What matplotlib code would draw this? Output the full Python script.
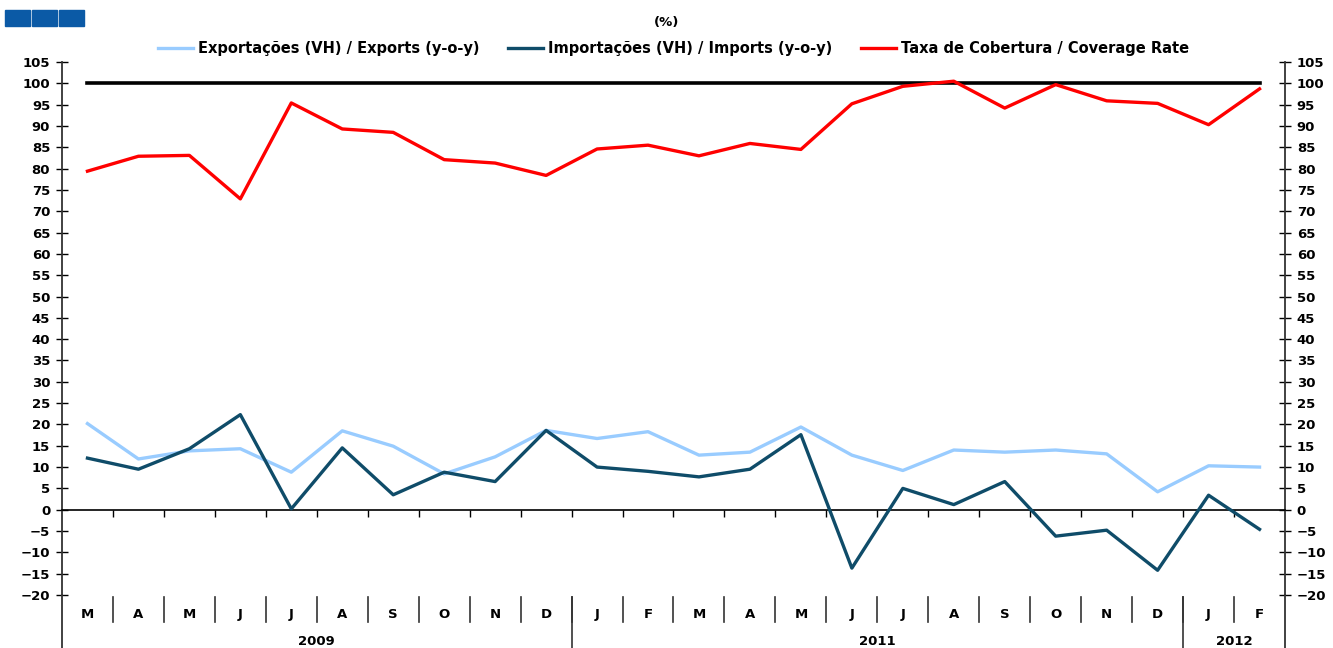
import matplotlib
matplotlib.use("Agg")
import matplotlib.pyplot as plt
from matplotlib.patches import Rectangle
from matplotlib.lines import Line2D

plt.rcParams["font.family"] = ["DejaVu Sans"]
plt.rcParams["font.weight"] = "bold"

months = ["M", "A", "M", "J", "J", "A", "S", "O", "N", "D",
          "J", "F", "M", "A", "M", "J", "J", "A", "S", "O", "N", "D",
          "J", "F"]
years = ["2009", "2011", "2012"]
year_spans = [(0, 9), (10, 21), (22, 23)]

exports = [20.2, 11.9, 13.8, 14.3, 8.8, 18.5, 14.9, 8.4, 12.4, 18.6,
           16.7, 18.3, 12.8, 13.5, 19.4, 12.8, 9.2, 14.0, 13.5, 14.0, 13.1, 4.2,
           10.3, 10.0]
imports = [12.1, 9.5, 14.3, 22.3, 0.2, 14.5, 3.5, 8.8, 6.6, 18.6,
           10.0, 9.0, 7.7, 9.5, 17.6, -13.7, 5.0, 1.2, 6.6, -6.2, -4.8, -14.2,
           3.4, -4.6]
coverage = [79.4, 82.9, 83.1, 72.9, 95.4, 89.3, 88.5, 82.1, 81.3, 78.4,
            84.6, 85.5, 83.0, 85.9, 84.5, 95.2, 99.3, 100.5, 94.2, 99.7, 95.9, 95.3,
            90.3, 98.7]
reference = 100

fig = plt.figure(figsize=(13.33, 6.48), dpi=100)
ax = fig.add_axes([0.0465, 0.0818, 0.9175, 0.8225])

x = list(range(len(months)))
ax.plot([x[0], x[-1]], [reference, reference], color="black", lw=2.6, zorder=2)
ax.plot(x, exports, color="#99CCFF", lw=2.4, label="Exportações (VH) / Exports (y-o-y)", zorder=3)
ax.plot(x, imports, color="#0F4C69", lw=2.4, label="Importações (VH) / Imports (y-o-y)", zorder=3)
ax.plot(x, coverage, color="#FF0000", lw=2.4, label="Taxa de Cobertura / Coverage Rate", zorder=3)

ax.set_xlim(-0.5, len(months) - 0.5)
ax.set_ylim(-20, 105)
yt = list(range(-20, 106, 5))
ax.set_yticks(yt)
ax.tick_params(axis="y", direction="inout", length=9, width=1, labelsize=9.5,
               left=True, right=True, labelleft=True, labelright=True, pad=4)
for lab in ax.get_yticklabels():
    lab.set_fontweight("bold")

# zero line with boundary ticks
ax.spines["bottom"].set_position(("data", 0))
ax.spines["bottom"].set_linewidth(1.2)
ax.spines["top"].set_visible(False)
for s in ("left", "right"):
    ax.spines[s].set_color("#333333")
    ax.spines[s].set_linewidth(1.3)
ax.set_xticks([i + 0.5 for i in x[:-1]])
ax.set_xticklabels([])
ax.tick_params(axis="x", direction="out", length=5, width=1)

trans = ax.get_xaxis_transform()
for i, m in enumerate(months):
    ax.text(i, -0.036, m, transform=trans, ha="center", va="center",
            fontsize=9.5, fontweight="bold")
for i in x[:-1]:
    ax.add_line(Line2D([i + 0.5, i + 0.5], [-0.004, -0.051], transform=trans,
                       color="#333333", lw=1.2, clip_on=False))
for (a, b), yr in zip(year_spans, years):
    ax.text((a + b) / 2, -0.088, yr, transform=trans, ha="center", va="center",
            fontsize=9.5, fontweight="bold")
for a, b in year_spans[1:]:
    ax.add_line(Line2D([a - 0.5, a - 0.5], [-0.004, -0.11], transform=trans,
                       color="#333333", lw=1.2, clip_on=False))
for xe in (-0.5, len(months) - 0.5):
    ax.add_line(Line2D([xe, xe], [0, -0.11], transform=trans,
                       color="#333333", lw=1.3, clip_on=False))

leg = ax.legend(loc="lower center", bbox_to_anchor=(0.5, 1.0), ncol=3, frameon=False,
                fontsize=10.5, handlelength=2.4, handletextpad=0.3, columnspacing=2.0,
                borderaxespad=0)
for t in leg.get_texts():
    t.set_fontweight("bold")

fig.text(0.5, 0.966, "(%)", ha="center", va="center", fontsize=9.5, fontweight="bold")

for k in range(3):
    fig.patches.append(Rectangle((5 / 1333 + k * 27 / 1333, 1 - 26 / 648), 25 / 1333, 16 / 648,
                                 transform=fig.transFigure, color="#0B5AA6"))

fig.savefig("out.png", dpi=100)
